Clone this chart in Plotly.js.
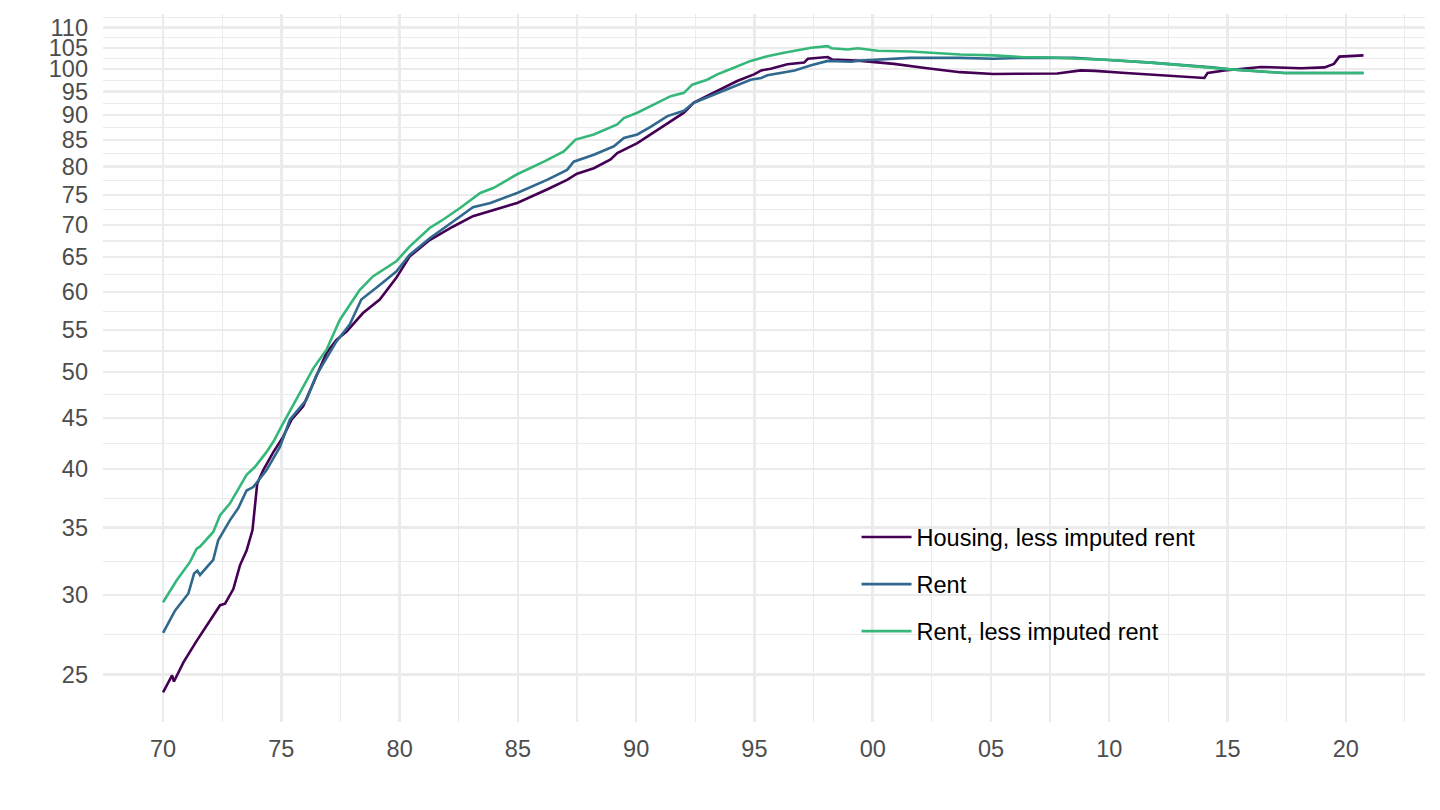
<!DOCTYPE html>
<html><head><meta charset="utf-8">
<script src="https://cdn.plot.ly/plotly-3.0.1.min.js"></script>
<style>html,body{margin:0;padding:0;background:#fff}#chart{width:1440px;height:810px}</style>
</head><body><div id="chart"></div>
<script>
const seriesNames = ["Housing, less imputed rent", "Rent", "Rent, less imputed rent"];
const seriesColors = ["#440154", "#31688E", "#35B779"];

const housingDates = [1970.0,1970.38,1970.46,1970.86,1971.42,1971.91,1972.41,1972.62,1972.97,1973.25,1973.53,1973.78,1973.88,1973.98,1974.23,1974.66,1975.08,1975.43,1975.92,1976.41,1976.91,1977.33,1977.75,1978.45,1979.16,1979.86,1980.42,1981.27,1982.25,1983.1,1983.84,1984.97,1986.23,1987.08,1987.5,1988.21,1988.92,1989.2,1990.05,1990.61,1991.17,1992.02,1992.44,1993.43,1994.27,1994.98,1995.29,1995.69,1996.39,1997.1,1997.26,1998.1,1998.3,1999.5,2000.9,2002.3,2003.7,2005.1,2006.3,2007.8,2008.8,2009.4,2010.7,2011.76,2013.3,2014.02,2014.16,2014.87,2016.42,2018.1,2019.1,2019.5,2019.73,2020.75];
const housingValues = [24.0,24.95,24.6,25.7,27.0,28.1,29.3,29.4,30.4,32.1,33.2,34.8,36.7,38.7,39.9,41.6,43.1,44.8,46.2,49.1,52.2,53.8,54.8,57.2,59.0,62.0,65.1,67.6,69.7,71.4,72.3,73.6,75.9,77.6,78.7,79.7,81.3,82.5,84.4,86.1,87.7,90.5,92.6,95.1,97.3,98.8,99.7,100.1,101.1,101.5,102.4,102.8,102.2,101.9,101.2,100.2,99.3,98.9,98.9,99.0,99.7,99.6,99.1,98.8,98.2,98.0,99.1,99.7,100.5,100.2,100.4,101.2,102.9,103.2];

const rentDates = [1970.0,1970.51,1971.07,1971.31,1971.45,1971.56,1972.12,1972.33,1972.83,1973.18,1973.53,1973.81,1974.37,1974.94,1975.36,1976.06,1976.48,1977.33,1977.89,1978.38,1979.16,1979.86,1980.42,1981.27,1982.25,1983.1,1983.84,1984.97,1986.23,1987.08,1987.36,1988.21,1989.06,1989.48,1990.05,1990.61,1991.32,1992.02,1992.44,1993.43,1994.13,1994.84,1995.29,1995.55,1996.7,1997.4,1998.1,1999.1,1999.5,2001.6,2003.7,2005.1,2006.3,2008.5,2010.0,2011.76,2014.35,2015.0,2017.4,2018.7,2020.75];
const rentValues = [27.5,28.95,30.1,31.5,31.7,31.4,32.5,34.0,35.6,36.6,38.1,38.4,39.9,42.1,44.8,46.9,49.6,53.6,55.7,59.0,61.0,62.9,65.35,67.9,70.5,72.9,73.6,75.3,77.6,79.4,80.9,82.2,83.8,85.4,86.1,87.6,89.8,90.9,92.6,94.7,96.2,97.6,98.0,98.6,99.7,100.9,101.9,101.7,102.0,102.6,102.6,102.4,102.6,102.6,102.1,101.5,100.4,100.0,99.1,99.1,99.1];

const rentLessDates = [1970.0,1970.57,1971.14,1971.42,1971.56,1972.12,1972.41,1972.83,1973.53,1973.88,1974.37,1974.66,1975.0,1975.5,1976.35,1976.91,1977.47,1978.31,1978.87,1979.86,1980.42,1981.27,1981.72,1982.57,1983.41,1983.98,1984.97,1986.1,1986.94,1987.44,1988.21,1989.2,1989.48,1990.05,1990.9,1991.46,1992.02,1992.37,1993.0,1993.43,1994.13,1994.84,1995.29,1995.55,1996.25,1996.96,1997.4,1998.1,1998.25,1998.95,1999.37,2000.2,2001.6,2003.7,2005.1,2006.3,2007.5,2010.0,2011.76,2015.0,2017.4,2018.7,2020.75];
const rentLessValues = [29.5,31.0,32.35,33.35,33.5,34.65,36.0,37.0,39.5,40.2,41.6,42.6,44.1,46.3,50.4,52.6,56.3,60.3,62.2,64.4,66.6,69.5,70.55,72.8,75.3,76.2,78.6,80.9,82.8,85.1,86.1,88.1,89.4,90.5,92.6,94.0,94.7,96.5,97.6,98.8,100.3,101.9,102.6,103.0,103.8,104.6,105.0,105.4,104.9,104.6,104.9,104.3,104.1,103.4,103.2,102.8,102.7,102.1,101.5,100.0,99.1,99.1,99.1];

const xTickVals = [1970,1975,1980,1985,1990,1995,2000,2005,2010,2015,2020];
const xTickLabels = ["70","75","80","85","90","95","00","05","10","15","20"];
const yTickVals = [25,30,35,40,45,50,55,60,65,70,75,80,85,90,95,100,105,110];

// minor gridlines: midpoints between breaks (x linear, y in log space)
const xMinor = [xTickVals[0] - 2.5].concat(xTickVals.map(v => v + 2.5));
const yAll = [20].concat(yTickVals, [115]);
const yMinor = [];
for (let i = 0; i < yAll.length - 1; i++) yMinor.push(Math.sqrt(yAll[i] * yAll[i + 1]));

const dates = [housingDates, rentDates, rentLessDates];
const values = [housingValues, rentValues, rentLessValues];

const traces = seriesNames.map((name, i) => ({
  type: 'scatter', mode: 'lines', name: name,
  x: dates[i], y: values[i],
  line: {color: seriesColors[i], width: 2.6},
  legendgroup: 'g' + i
}));

const font = {family: '"Liberation Sans", Arial, Helvetica, sans-serif', size: 23.5, color: '#4D4D4D'};
const layout = {
  width: 1440, height: 810,
  margin: {l: 103, r: 15, t: 14, b: 88, pad: 0},
  paper_bgcolor: '#ffffff', plot_bgcolor: '#ffffff',
  font: font,
  showlegend: true,
  legend: {
    x: 0.570, y: 0.292, xanchor: 'left', yanchor: 'top',
    bgcolor: 'rgba(0,0,0,0)', borderwidth: 0,
    font: {family: font.family, size: 23.5, color: '#000000'},
    traceorder: 'grouped', tracegroupgap: 13.5, itemwidth: 50
  },
  xaxis: {
    type: 'linear', range: [1967.46, 2023.35],
    tickmode: 'array', tickvals: xTickVals, ticktext: xTickLabels,
    showgrid: true, gridcolor: '#EBEBEB', gridwidth: 2.4,
    zeroline: false, showline: false, ticks: '',
    ticklabelstandoff: 10,
    tickfont: font,
    minor: {tickmode: 'array', tickvals: xMinor, showgrid: true, gridcolor: '#EBEBEB', gridwidth: 1.2, ticks: ''}
  },
  yaxis: {
    type: 'log', range: [1.3507, 2.0548],
    tickmode: 'array', tickvals: yTickVals, ticktext: yTickVals.map(String),
    showgrid: true, gridcolor: '#EBEBEB', gridwidth: 2.4,
    zeroline: false, showline: false, ticks: '',
    ticklabelstandoff: 14,
    tickfont: font,
    minor: {tickmode: 'array', tickvals: yMinor, showgrid: true, gridcolor: '#EBEBEB', gridwidth: 1.2, ticks: ''}
  }
};

Plotly.newPlot('chart', traces, layout, {displayModeBar: false, staticPlot: true});
</script>
</body></html>
